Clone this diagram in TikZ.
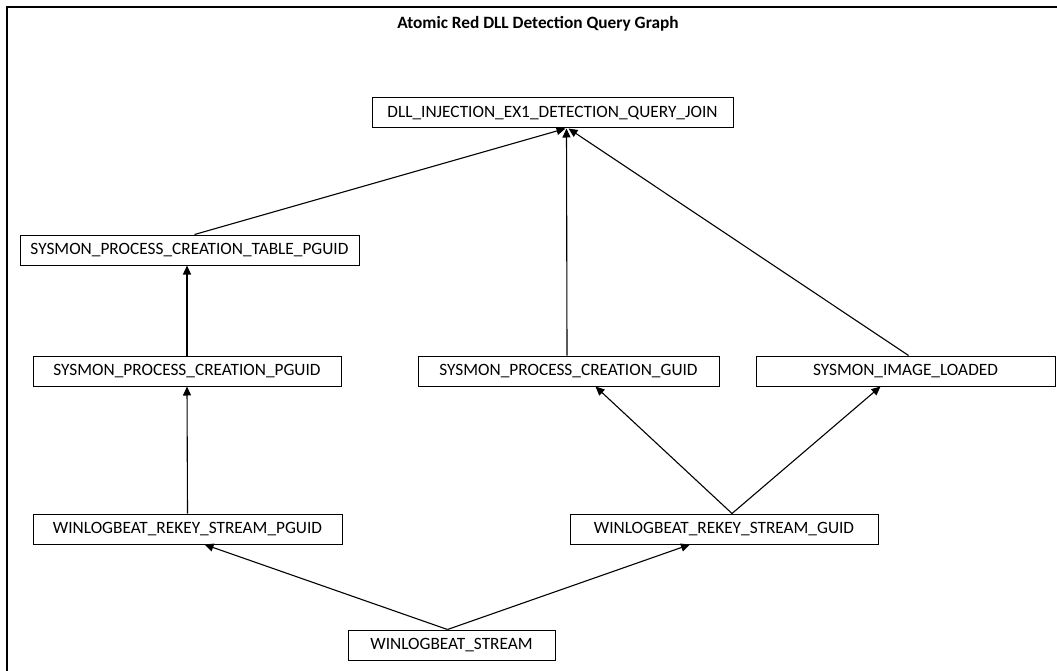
\documentclass[tikz,border=0pt]{standalone}
\usepackage{fontspec}
\setmainfont{Carlito}
\usetikzlibrary{arrows.meta, positioning, calc}

\begin{document}
\begin{tikzpicture}[
    x=1pt, y=-1pt,
    qnode/.style={rectangle, draw, line width=1pt, minimum height=30pt, inner sep=0pt, font=\fontsize{17.3}{20}\selectfont},
    arrow/.style={-{Triangle[length=9pt, width=8pt]}, line width=1.1pt}
]
\useasboundingbox (0,0) rectangle (1057,671);
\draw[line width=1.6pt] (7,671) -- (7,7) -- (1057,7);
\node[font=\bfseries\fontsize{17.3}{20}\selectfont] (title) at (538,24) {Atomic Red DLL Detection Query Graph};

\node[qnode, minimum width=361pt] (join) at (552.5,113) {DLL\_INJECTION\_EX1\_DETECTION\_QUERY\_JOIN};
\node[qnode, minimum width=339pt] (tablepguid) at (189.5,250) {SYSMON\_PROCESS\_CREATION\_TABLE\_PGUID};
\node[qnode, minimum width=308pt] (procpguid) at (187,371) {SYSMON\_PROCESS\_CREATION\_PGUID};
\node[qnode, minimum width=301pt] (procguid) at (568.5,371) {SYSMON\_PROCESS\_CREATION\_GUID};
\node[qnode, minimum width=299pt] (imageloaded) at (905.5,371) {SYSMON\_IMAGE\_LOADED};
\node[qnode, minimum width=309pt] (rekeypguid) at (187.5,529) {WINLOGBEAT\_REKEY\_STREAM\_PGUID};
\node[qnode, minimum width=308pt] (rekeyguid) at (724,529) {WINLOGBEAT\_REKEY\_STREAM\_GUID};
\node[qnode, minimum width=207pt] (stream) at (451.5,645) {WINLOGBEAT\_STREAM};

\draw[arrow] ([xshift=5pt]tablepguid.north) -- ([xshift=13pt]join.south);
\draw[arrow] ([xshift=-1.5pt]procguid.north) -- ([xshift=14pt]join.south);
\draw[arrow] ([xshift=3pt]imageloaded.north) -- ([xshift=16pt]join.south);
\draw[arrow] (procpguid.north) -- (procpguid.north |- tablepguid.south);
\draw[arrow] (rekeypguid.north) -- (procpguid.south);
\draw[arrow] ([xshift=8pt]rekeyguid.north) -- ([xshift=27pt]procguid.south);
\draw[arrow] ([xshift=8pt]rekeyguid.north) -- ([xshift=-25pt]imageloaded.south);
\draw[arrow] ([xshift=-4pt]stream.north) -- ([xshift=17pt]rekeypguid.south);
\draw[arrow] ([xshift=-4pt]stream.north) -- ([xshift=-34pt]rekeyguid.south);
\end{tikzpicture}
\end{document}
